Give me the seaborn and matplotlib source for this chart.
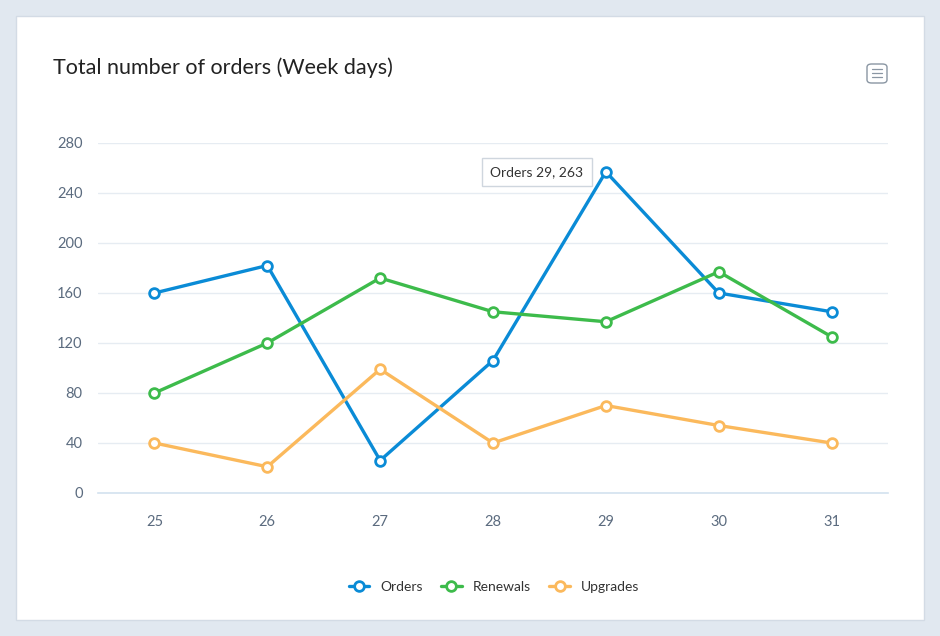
import pandas as pd
import matplotlib.pyplot as plt
import seaborn as sns
from matplotlib.patches import Rectangle, FancyBboxPatch
from matplotlib.lines import Line2D

days = [25, 26, 27, 28, 29, 30, 31]
orders = [160, 182, 26, 106, 257, 160, 145]
renewals = [80, 120, 172, 145, 137, 177, 125]
upgrades = [40, 21, 99, 40, 70, 54, 40]
series_names = ["Orders", "Renewals", "Upgrades"]
y_ticks = [0, 40, 80, 120, 160, 200, 240, 280]
tooltip_text = "Orders 29, 263"

df = pd.DataFrame({"day": days * 3,
                   "value": orders + renewals + upgrades,
                   "series": [s for s in series_names for _ in days]})

colors = {"Orders": "#0a8bd6", "Renewals": "#3dbb4b", "Upgrades": "#fbb95c"}

sns.set_style("white")
plt.rcParams["font.family"] = ["Lato", "DejaVu Sans"]

fig = plt.figure(figsize=(9.4, 6.36), dpi=100)
fig.patch.set_facecolor("#e1e8f0")
# white card
card = Rectangle((16 / 940, 16 / 636), 908 / 940, 604 / 636,
                 transform=fig.transFigure, facecolor="white",
                 edgecolor="#d3dbe5", linewidth=1, zorder=-5)
fig.patches.append(card)

ax = fig.add_axes([98 / 940, 143 / 636, 790 / 940, 350 / 636])
ax.set_facecolor("none")
ax.set_zorder(2)

sns.lineplot(data=df, x="day", y="value", hue="series", palette=colors,
             marker="o", markersize=7, markerfacecolor="white",
             markeredgewidth=2, linewidth=2.4, ax=ax, legend=False)
# open circles take the line colour as edge
for ln in ax.lines:
    ln.set_markeredgecolor(ln.get_color())

ax.set_xlim(24.5, 31.5)
ax.set_ylim(0, 280)
ax.set_xticks(days)
ax.set_yticks(y_ticks)
ax.set_xlabel("")
ax.set_ylabel("")
ax.grid(axis="y", color="#e6ecf2", linewidth=1)
ax.set_axisbelow(True)
for side in ["top", "right", "left"]:
    ax.spines[side].set_visible(False)
ax.spines["bottom"].set_color("#d3e2ef")
ax.spines["bottom"].set_linewidth(1.2)
ax.tick_params(axis="both", length=0, labelsize=10.5, labelcolor="#5b6b7f")
ax.tick_params(axis="y", pad=11)
ax.tick_params(axis="x", pad=16)

handles = [Line2D([0], [0], color=colors[s], linewidth=2.4, marker="o",
                  markersize=7, markerfacecolor="white", markeredgewidth=2,
                  markeredgecolor=colors[s]) for s in series_names]
fig.legend(handles, series_names, loc="center", bbox_to_anchor=(494 / 940, 1 - 587 / 636),
           ncol=3, frameon=False, fontsize=10, handlelength=1.5,
           columnspacing=1.3, handletextpad=0.8, labelcolor="#333333")

fig.text(53 / 940, 1 - 68 / 636, "Total number of orders (Week days)",
         fontsize=15.5, color="#222222", va="center", ha="left")

# tooltip
ax.annotate(tooltip_text, xy=(29, 257), xytext=(537 / 940, 1 - 172 / 636),
            textcoords="figure fraction", ha="center", va="center",
            fontsize=10, color="#333333", zorder=10,
            bbox=dict(boxstyle="square,pad=0.6", facecolor="white",
                      edgecolor="#cfd6de", linewidth=1))

# menu icon
fig.patches.append(FancyBboxPatch((867 / 940, 1 - 83 / 636), 20 / 940, 19 / 636,
                                  boxstyle="round,pad=0,rounding_size=0.005",
                                  transform=fig.transFigure, facecolor="white",
                                  edgecolor="#8a96a3", linewidth=1))
for yy in [69, 73, 77]:
    fig.lines.append(Line2D([872 / 940, 882 / 940], [1 - yy / 636, 1 - yy / 636],
                            transform=fig.transFigure, color="#8a96a3",
                            linewidth=0.9))

fig.savefig("out.png", dpi=100, facecolor=fig.get_facecolor())
